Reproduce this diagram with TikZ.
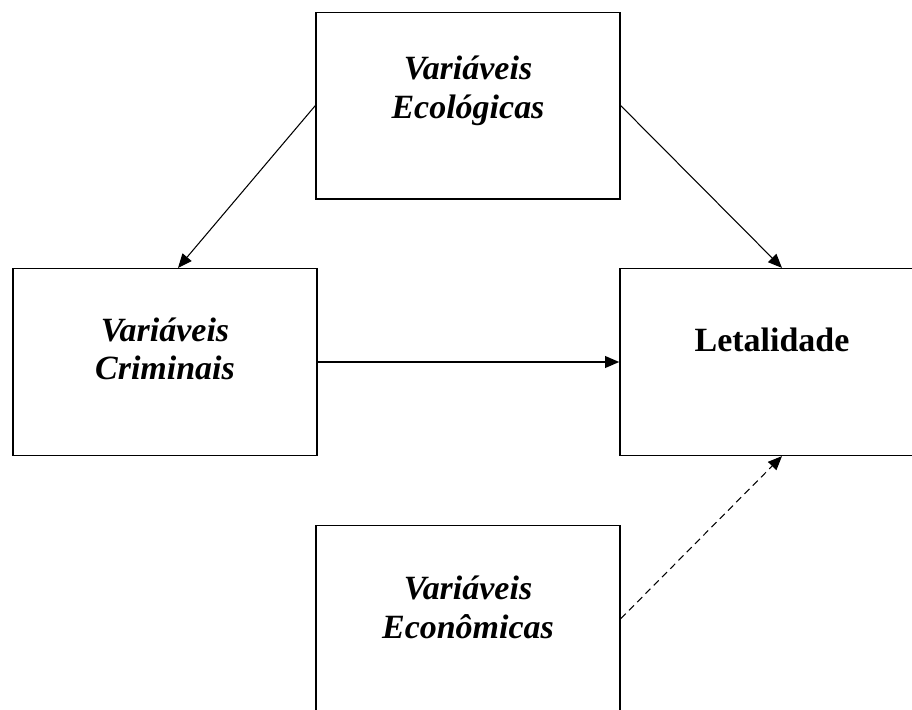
\documentclass[tikz,border=0pt]{standalone}
\usepackage{fontspec}
\setmainfont{Liberation Serif}
\usetikzlibrary{arrows.meta,positioning}

\begin{document}
\begin{tikzpicture}[
    box/.style={draw, line width=1.3pt, minimum width=9.12cm, minimum height=5.6cm, inner sep=0pt},
    txt/.style={align=center, font=\fontsize{29}{33}\selectfont\bfseries\itshape},
    arr/.style={-{Triangle[length=12pt,width=10pt]}, line width=0.9pt}
]
\clip (0,0) rectangle (27.36,-21.27);
\node[box] (eco) at (14.04,-3.17) {};
\node[box] (crim) at (4.95,-10.86) {};
\node[box] (leta) at (23.16,-10.86) {};
\node[box] (econ) at (14.04,-18.56) {};

\node[txt] (ecotxt) at ([yshift=0.45cm]eco.center) {Variáveis\\Ecológicas};
\node[txt] (crimtxt) at ([yshift=0.39cm]crim.center) {Variáveis\\Criminais};
\node[txt, font=\fontsize{29}{33}\selectfont\bfseries] (letatxt) at ([yshift=0.66cm]leta.center) {Letalidade};
\node[txt] (econtxt) at ([yshift=0.33cm]econ.center) {Variáveis\\Econômicas};

\draw[arr] (eco.west) -- ([xshift=0.39cm]crim.north);
\draw[arr] (eco.east) -- ([xshift=0.3cm]leta.north);
\draw[arr, line width=1.2pt] (crim.east) -- (leta.west);
\draw[arr, dash pattern=on 6pt off 4pt] (econ.east) -- ([xshift=0.3cm]leta.south);
\end{tikzpicture}
\end{document}
